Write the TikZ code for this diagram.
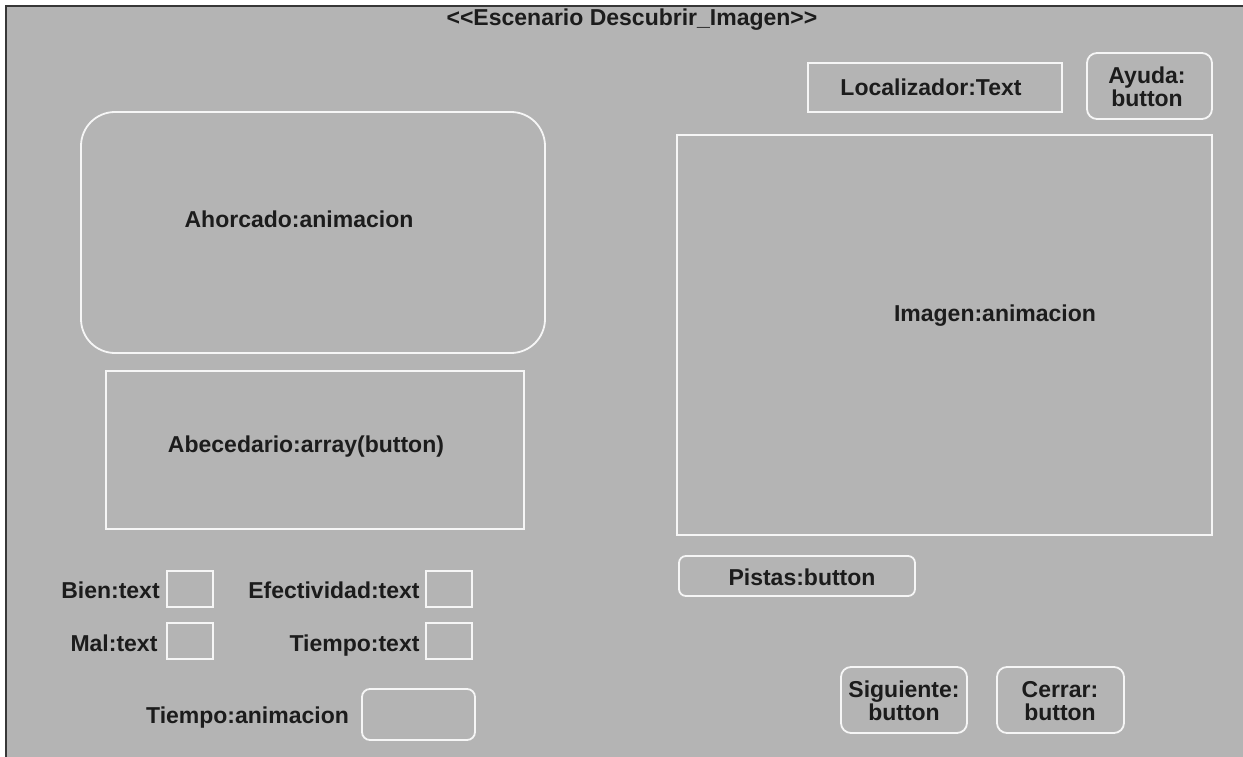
\documentclass[tikz,border=0pt]{standalone}
\usepackage{fontspec}
\setmainfont{Liberation Sans}
\usetikzlibrary{fit}
\definecolor{panel}{RGB}{180,180,180}
\definecolor{edge}{RGB}{246,246,246}
\definecolor{ink}{RGB}{28,28,28}
\definecolor{frameline}{RGB}{55,55,55}
\begin{document}
\begin{tikzpicture}[x=1pt,y=-1pt,
  field/.style={draw=edge, line width=1.8pt, inner sep=0pt},
  soft/.style={field, rounded corners=#1},
  lbl/.style={font=\fontsize{23}{23}\selectfont\bfseries, text=ink, inner sep=0pt,
    text height=16pt, text depth=0pt},
  twoline/.style={font=\fontsize{23}{23}\selectfont\bfseries, text=ink, inner sep=0pt,
    align=center}]
\useasboundingbox (0,0) rectangle (1243,757);
% window background and frame
\fill[white] (0,0) rectangle (1243,757);
\fill[panel] (6,6) rectangle (1243,757);
\draw[frameline, line width=2pt] (6,757) -- (6,6) -- (1243,6);

% title
\node[lbl] (title) at (632,18) {<{}<Escenario Descubrir\_Imagen>{}>};

% top right
\node[field, fit={(808,63)(1062,112)}] (loc) {};
\node[lbl] (loctxt) at (931,88) {Localizador:Text};
\node[soft=10pt, fit={(1087,53)(1212,119)}] (ayuda) {};
\node[twoline] (ayudatxt) at (1147,87) {Ayuda:\\button};

% image area
\node[field, fit={(677,135)(1212,535)}] (imagen) {};
\node[lbl] (imagentxt) at (995,313) {Imagen:animacion};

% hangman and alphabet
\node[soft=34pt, fit={(81,112)(545,353)}] (ahorcado) {};
\node[lbl] (ahorcadotxt) at (299,219) {Ahorcado:animacion};
\node[field, fit={(106,371)(524,529)}] (abc) {};
\node[lbl] (abctxt) at (306,444) {Abecedario:array(button)};

% score fields
\node[lbl] (bientxt) at (110.5,590) {Bien:text};
\node[field, fit={(167,571)(213,607)}] (bien) {};
\node[lbl] (efectxt) at (334,590) {Efectividad:text};
\node[field, fit={(426,571)(472,607)}] (efec) {};
\node[lbl] (maltxt) at (114,643) {Mal:text};
\node[field, fit={(167,623)(213,659)}] (mal) {};
\node[lbl] (tiempotxt) at (354.5,643) {Tiempo:text};
\node[field, fit={(426,623)(472,659)}] (tiempo) {};
\node[lbl] (tanimtxt) at (247.5,715) {Tiempo:animacion};
\node[soft=8pt, fit={(362,689)(475,740)}] (tanim) {};

% buttons
\node[soft=7pt, fit={(679,556)(915,596)}] (pistas) {};
\node[lbl] (pistastxt) at (802,577) {Pistas:button};
\node[soft=10pt, fit={(841,667)(967,733)}] (siguiente) {};
\node[twoline] (siguientetxt) at (904,701) {Siguiente:\\button};
\node[soft=10pt, fit={(997,667)(1124,733)}] (cerrar) {};
\node[twoline] (cerrartxt) at (1060,701) {Cerrar:\\button};
\end{tikzpicture}
\end{document}
